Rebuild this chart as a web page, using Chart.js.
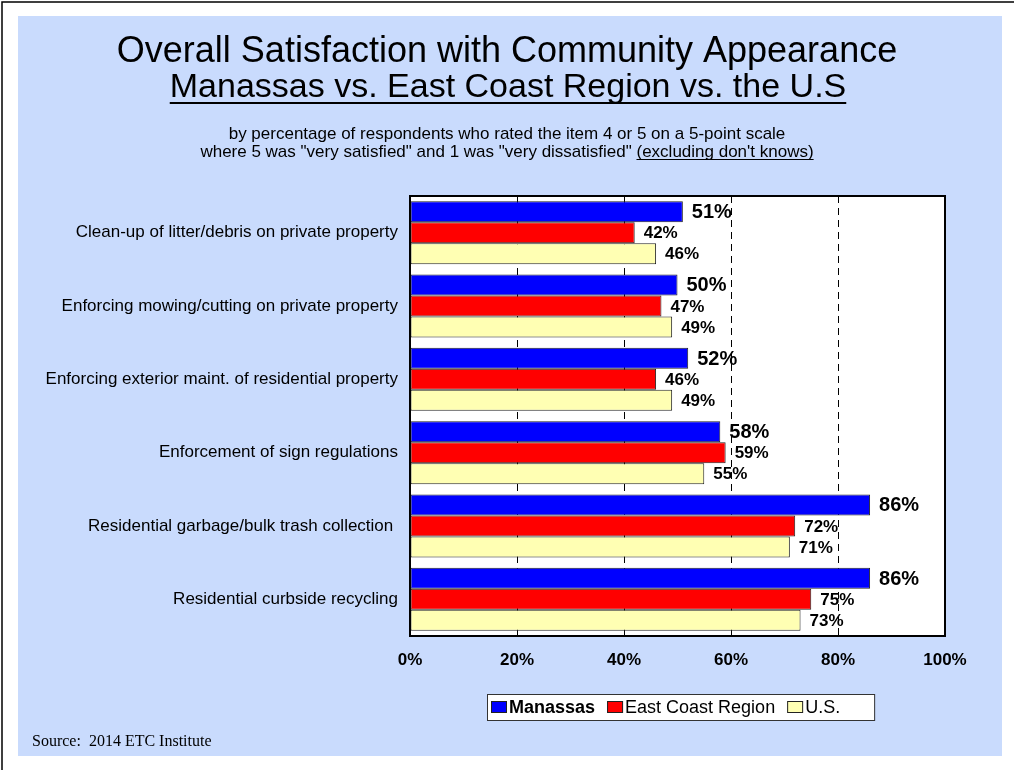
<!DOCTYPE html>
<html>
<head>
<meta charset="utf-8">
<script src="https://cdn.jsdelivr.net/npm/chart.js@4.4.1/dist/chart.umd.min.js"></script>
<style>
  html, body { margin: 0; padding: 0; background: #fff; }
  canvas { display: block; }
</style>
</head>
<body>
<canvas id="chart" width="1014" height="770"></canvas>
<script>
// Survey items, top to bottom
const categories = [
  'Clean-up of litter/debris on private property',
  'Enforcing mowing/cutting on private property',
  'Enforcing exterior maint. of residential property',
  'Enforcement of sign regulations',
  'Residential garbage/bulk trash collection ',
  'Residential curbside recycling'
];

// Percent satisfied (rated 4 or 5)
const manassas  = [51, 50, 52, 58, 86, 86];
const eastCoast = [42, 47, 46, 59, 72, 75];
const usAll     = [46, 49, 49, 55, 71, 73];

const seriesNames = ['Manassas', 'East Coast Region', 'U.S.'];
const tickValues = [0, 20, 40, 60, 80, 100];

const titleLine1 = 'Overall Satisfaction with Community Appearance';
const titleLine2 = 'Manassas vs. East Coast Region vs. the U.S';
const subLine1 = 'by percentage of respondents who rated the item 4 or 5 on a 5-point scale';
const subLine2a = 'where 5 was "very satisfied" and 1 was "very dissatisfied" ';
const subLine2b = "(excluding don't knows)";
const sourceText = 'Source:  2014 ETC Institute';

const SANS = "'Liberation Sans', Arial, sans-serif";
const SERIF = "'Liberation Serif', 'Times New Roman', serif";

// Page frame, blue panel and white plot background
const framePlugin = {
  id: 'frame',
  beforeDraw(chart) {
    const ctx = chart.ctx;
    const a = chart.chartArea;
    ctx.save();
    ctx.fillStyle = '#ffffff';
    ctx.fillRect(0, 0, chart.width, chart.height);
    ctx.strokeStyle = '#000';
    ctx.lineWidth = 1.5;
    ctx.beginPath();
    ctx.moveTo(2, chart.height);
    ctx.lineTo(2, 2);
    ctx.lineTo(chart.width, 2);
    ctx.stroke();
    ctx.fillStyle = '#c9dbfd';
    ctx.fillRect(18, 16, 984, 740);
    ctx.fillStyle = '#ffffff';
    ctx.fillRect(a.left, a.top, a.right - a.left, a.bottom - a.top);
    ctx.restore();
  }
};

// Value labels at bar ends and the plot frame
const valueLabelPlugin = {
  id: 'valueLabels',
  afterDatasetsDraw(chart) {
    const ctx = chart.ctx;
    ctx.save();
    chart.data.datasets.forEach((ds, di) => {
      const meta = chart.getDatasetMeta(di);
      ctx.font = di === 0 ? `bold 20px ${SANS}` : `bold 17px ${SANS}`;
      ctx.fillStyle = '#000';
      ctx.textAlign = 'left';
      ctx.textBaseline = 'middle';
      meta.data.forEach((bar, i) => {
        ctx.fillText(ds.data[i] + '%', bar.x + 9, bar.y + 1);
      });
    });
    const a = chart.chartArea;
    ctx.strokeStyle = '#000';
    ctx.lineWidth = 2;
    ctx.strokeRect(a.left, a.top, a.right - a.left, a.bottom - a.top);
    ctx.restore();
  }
};

function centeredText(ctx, text, cx, y, underline, thick) {
  const w = ctx.measureText(text).width;
  const x = cx - w / 2;
  ctx.fillText(text, x, y);
  if (underline) {
    ctx.fillRect(x, y + underline, w, thick);
  }
}

// Titles, legend and source note
const textPlugin = {
  id: 'texts',
  afterDraw(chart) {
    const ctx = chart.ctx;
    const cx = 507;
    ctx.save();
    ctx.fillStyle = '#000';
    ctx.textAlign = 'left';
    ctx.textBaseline = 'alphabetic';

    ctx.font = `36px ${SANS}`;
    centeredText(ctx, titleLine1, cx, 62, 0, 0);
    ctx.font = `34px ${SANS}`;
    centeredText(ctx, titleLine2, cx + 1, 97, 5, 2);

    ctx.font = `17px ${SANS}`;
    centeredText(ctx, subLine1, cx, 139, 0, 0);
    const wa = ctx.measureText(subLine2a).width;
    const wb = ctx.measureText(subLine2b).width;
    let x = cx - (wa + wb) / 2;
    ctx.fillText(subLine2a, x, 157);
    ctx.fillText(subLine2b, x + wa, 157);
    ctx.fillRect(x + wa, 159, wb, 1);

    // legend
    const items = chart.data.datasets.map((ds, i) => ({
      label: ds.label,
      color: ds.backgroundColor,
      font: i === 0 ? `bold 18px ${SANS}` : `18px ${SANS}`
    }));
    const sw = 16, sh = 12, gapText = 2, gapItem = 12, padL = 4, padR = 34;
    let total = padL;
    items.forEach((it, i) => {
      ctx.font = it.font;
      it.w = ctx.measureText(it.label).width;
      total += sw + gapText + it.w + (i < items.length - 1 ? gapItem : 0);
    });
    total += padR;
    const a = chart.chartArea;
    const boxL = a.left + 77;
    const boxT = 694, boxH = 26, cy = boxT + boxH / 2;
    ctx.fillStyle = '#fff';
    ctx.fillRect(boxL, boxT, total, boxH);
    ctx.strokeStyle = '#333';
    ctx.lineWidth = 1;
    ctx.strokeRect(boxL + 0.5, boxT + 0.5, total, boxH);
    x = boxL + padL;
    items.forEach((it) => {
      ctx.fillStyle = it.color;
      ctx.fillRect(x, cy - sh / 2, sw, sh);
      ctx.strokeStyle = '#222';
      ctx.strokeRect(x + 0.5, cy - sh / 2 + 0.5, sw - 1, sh - 1);
      ctx.fillStyle = '#000';
      ctx.font = it.font;
      ctx.textBaseline = 'middle';
      ctx.fillText(it.label, x + sw + gapText, cy + 1);
      x += sw + gapText + it.w + gapItem;
    });

    ctx.textBaseline = 'alphabetic';
    ctx.font = `16px ${SERIF}`;
    ctx.fillStyle = '#000';
    ctx.fillText(sourceText, 32, 746);
    ctx.restore();
  }
};

const barCommon = {
  borderWidth: 1,
  borderColor: '#222',
  borderSkipped: false,
  categoryPercentage: 0.86,
  barPercentage: 1.0
};

new Chart(document.getElementById('chart'), {
  type: 'bar',
  data: {
    labels: categories,
    datasets: [
      Object.assign({ label: seriesNames[0], data: manassas,  backgroundColor: '#0000ff' }, barCommon),
      Object.assign({ label: seriesNames[1], data: eastCoast, backgroundColor: '#ff0000' }, barCommon),
      Object.assign({ label: seriesNames[2], data: usAll,     backgroundColor: '#ffffb3' }, barCommon)
    ]
  },
  options: {
    indexAxis: 'y',
    responsive: false,
    devicePixelRatio: 1,
    animation: false,
    layout: { padding: { top: 196, right: 69, bottom: 0, left: 0 } },
    plugins: {
      legend: { display: false },
      tooltip: { enabled: false },
      title: { display: false }
    },
    scales: {
      x: {
        min: tickValues[0],
        max: tickValues[tickValues.length - 1],
        afterBuildTicks(scale) {
          scale.ticks = tickValues.map(v => ({ value: v }));
        },
        ticks: {
          callback: v => v + '%',
          color: '#000',
          font: { family: SANS, size: 17, weight: 'bold' },
          padding: 14,
          maxRotation: 0,
          autoSkip: false
        },
        grid: { color: '#000', lineWidth: 1, drawTicks: false },
        border: { display: false, dash: [7, 5] },
        afterFit(scale) { scale.height = 134; }
      },
      y: {
        ticks: {
          color: '#000',
          font: { family: SANS, size: 17 },
          padding: 12
        },
        grid: { display: false, drawTicks: false },
        border: { display: false },
        afterFit(scale) { scale.width = 410; }
      }
    }
  },
  plugins: [framePlugin, valueLabelPlugin, textPlugin]
});
</script>
</body>
</html>
